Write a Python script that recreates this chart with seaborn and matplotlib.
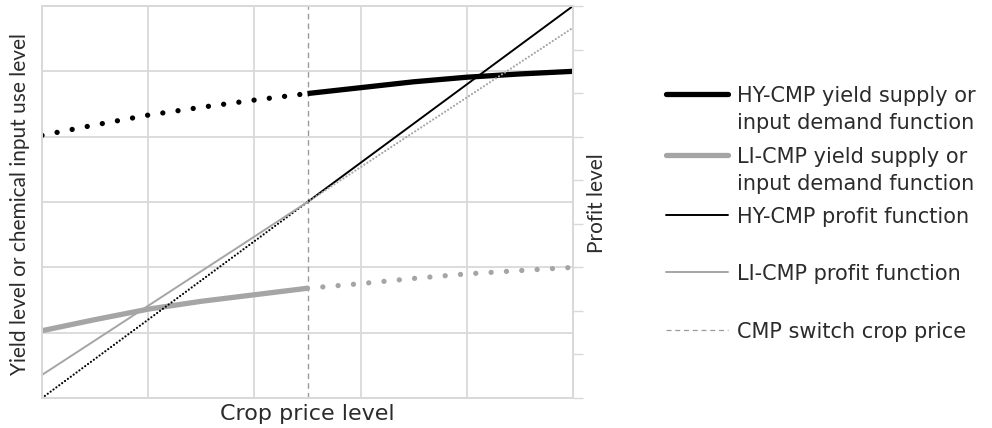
import numpy as np
import pandas as pd
import matplotlib
matplotlib.use("Agg")
import matplotlib.pyplot as plt
import seaborn as sns
from matplotlib.lines import Line2D

# Crop price grid and the supply/demand responses (left axis, 0-6)
price = [0, 0.5, 1, 1.5, 2, 2.5, 3, 3.5, 4, 4.5, 5]
hy_yield = [4.02, 4.18, 4.33, 4.45, 4.56, 4.66, 4.75, 4.84, 4.91, 4.96, 5.0]
li_yield = [1.03, 1.20, 1.36, 1.48, 1.58, 1.68, 1.75, 1.83, 1.90, 1.95, 2.0]

# Profit functions (right axis, 0-9)
profit_price = [0, 2.5, 5]
hy_profit = [0, 4.5, 9]
li_profit = [0.53, 4.5, 8.5]

switch_price = 2.5

legend_labels = [
    "HY-CMP yield supply or\ninput demand function",
    "LI-CMP yield supply or\ninput demand function",
    "HY-CMP profit function",
    "LI-CMP profit function",
    "CMP switch crop price",
]

sns.set_style("white")
plt.rcParams["font.family"] = ["DejaVu Sans"]

BLACK = "#000000"
GRAY = "#a5a5a5"
GRID = "#d9d9d9"
TEXT = "#2b2b2b"

W, H = 992, 428
fig = plt.figure(figsize=(W / 100, H / 100), dpi=100)
ax = fig.add_axes([42 / W, (H - 398) / H, (573 - 42) / W, (398 - 6) / H])
ax2 = ax.twinx()

df_y = pd.DataFrame({"price": price, "hy": hy_yield, "li": li_yield})
left = df_y[df_y.price <= switch_price]
right = df_y[df_y.price >= switch_price]

dots_big = (0, (0.01, 2.9))

# HY-CMP yield: dotted below the switch price, solid above
sns.lineplot(data=left, x="price", y="hy", ax=ax, color=BLACK, lw=3.8,
             linestyle=dots_big, dash_capstyle="round")
sns.lineplot(data=right, x="price", y="hy", ax=ax, color=BLACK, lw=3.8,
             solid_capstyle="butt")
# LI-CMP yield: solid below the switch price, dotted above
sns.lineplot(data=left, x="price", y="li", ax=ax, color=GRAY, lw=3.8,
             solid_capstyle="butt")
sns.lineplot(data=right, x="price", y="li", ax=ax, color=GRAY, lw=3.8,
             linestyle=dots_big, dash_capstyle="round")

df_p = pd.DataFrame({"price": profit_price, "hy": hy_profit, "li": li_profit})
pl = df_p[df_p.price <= switch_price]
pr = df_p[df_p.price >= switch_price]
dots_small = (0, (0.01, 1.6))

sns.lineplot(data=pl, x="price", y="hy", ax=ax2, color=BLACK, lw=1.6,
             linestyle=dots_small, dash_capstyle="round")
sns.lineplot(data=pr, x="price", y="hy", ax=ax2, color=BLACK, lw=1.4)
sns.lineplot(data=pl, x="price", y="li", ax=ax2, color=GRAY, lw=1.4)
sns.lineplot(data=pr, x="price", y="li", ax=ax2, color=GRAY, lw=1.6,
             linestyle=dots_small, dash_capstyle="round")

ax.axvline(switch_price, color="#9a9a9a", lw=1.0, linestyle=(0, (4, 3)), zorder=1)

# Axes styling
ax.set_xlim(0, 5)
ax.set_ylim(0, 6)
ax2.set_ylim(0, 9)
ax.set_xticks(range(0, 6))
ax.set_yticks(range(0, 7))
ax2.set_yticks(range(0, 10))
ax.grid(True, color=GRID, lw=1.3)
ax.set_axisbelow(True)
ax.tick_params(length=0, labelbottom=False, labelleft=False)
ax2.tick_params(axis="y", direction="out", length=7, width=1.0, color=GRID,
                labelright=False)
for a in (ax, ax2):
    for s in a.spines.values():
        s.set_color(GRID)
        s.set_linewidth(1.3)

ax.set_xlabel("")
ax.set_ylabel("")
ax2.set_ylabel("")

fig.text(307.5 / W, 1 - 414 / H, "Crop price level", ha="center", va="center",
         fontsize=16, color=TEXT)
fig.text(20 / W, 1 - 204 / H, "Yield level or chemical input use level",
         ha="center", va="center", rotation=90, fontsize=15, color=TEXT,
         family="Lato")
fig.text(597 / W, 1 - 203 / H, "Profit level", ha="center", va="center",
         rotation=90, fontsize=15, color=TEXT, family="Lato")

# Legend drawn as figure artists
handle_styles = [
    dict(color=BLACK, lw=3.8, solid_capstyle="round"),
    dict(color=GRAY, lw=3.8, solid_capstyle="round"),
    dict(color=BLACK, lw=1.4),
    dict(color=GRAY, lw=1.4),
    dict(color="#9a9a9a", lw=0.9, linestyle=(0, (4, 3))),
]
ys = [94, 155, 215, 272, 330]
for yy, lab, st in zip(ys, legend_labels, handle_styles):
    fig.add_artist(Line2D([666 / W, 728 / W], [1 - yy / H, 1 - yy / H],
                          transform=fig.transFigure, **st))
    for i, line in enumerate(lab.split("\n")):
        fig.text(737 / W, 1 - (yy + 27 * i) / H, line, ha="left",
                 va="center_baseline", fontsize=15, color=TEXT)

fig.savefig("out.png", dpi=100)
